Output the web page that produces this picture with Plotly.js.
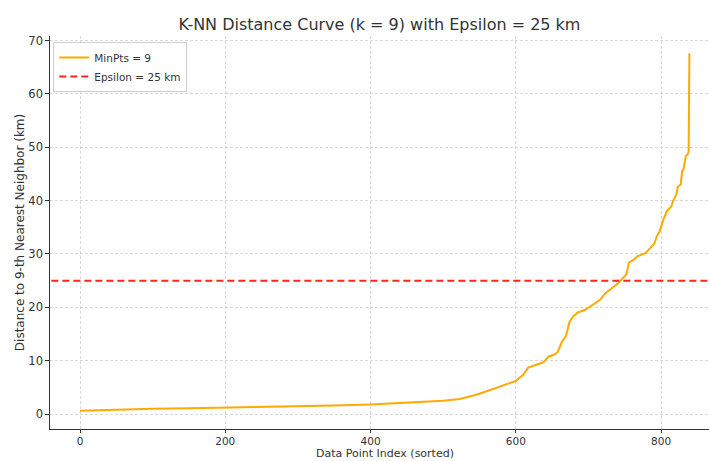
<!DOCTYPE html>
<html>
<head>
<meta charset="utf-8">
<script src="https://cdn.plot.ly/plotly-3.0.1.min.js"></script>
<style>html,body{margin:0;padding:0;background:#fff;}#chart{width:709px;height:461px;}</style>
</head>
<body>
<div id="chart"></div>
<script>
// Sorted k-NN distances (k = 9)
const pointIndex = [0, 20, 50, 100, 150, 200, 250, 300, 350, 400, 450, 500, 523, 535, 544, 554, 564, 574, 583, 592, 600, 605, 610, 617, 625, 632, 638, 645, 654, 658, 663, 669, 674, 679, 685, 695, 704, 716, 723, 732, 741, 746, 752, 756, 762, 768, 778, 785, 791, 794, 798, 803, 808, 814, 817, 821, 823, 827, 829, 831, 834, 837, 838, 839];
const knnDistance = [0.62, 0.72, 0.85, 1.0, 1.08, 1.19, 1.3, 1.43, 1.6, 1.81, 2.1, 2.5, 2.81, 3.2, 3.56, 4.0, 4.5, 5.0, 5.44, 5.8, 6.19, 6.8, 7.3, 8.7, 9.1, 9.5, 9.7, 10.75, 11.2, 11.7, 13.4, 14.6, 17.3, 18.3, 19.0, 19.5, 20.3, 21.4, 22.6, 23.6, 24.5, 25.3, 26.1, 28.4, 28.9, 29.6, 30.1, 31.1, 32.0, 33.3, 34.2, 36.4, 38.0, 38.9, 40.1, 41.1, 42.6, 43.0, 45.5, 45.9, 48.3, 48.8, 49.2, 67.6];
const epsilonKm = 25;
const xTicks = [0, 200, 400, 600, 800];
const yTicks = [0, 10, 20, 30, 40, 50, 60, 70];
const xTitle = 'Data Point Index (sorted)';

const font = "DejaVu Sans, sans-serif";
const traces = [
  {x: pointIndex, y: knnDistance, type: 'scatter', mode: 'lines', name: 'MinPts = 9',
   line: {color: '#FFAA00', width: 2}},
  {x: [-100, 1000], y: [epsilonKm, epsilonKm], type: 'scatter', mode: 'lines', name: 'Epsilon = 25 km',
   line: {color: '#FF2222', width: 2, dash: '7px,4px'}}
];
const layout = {
  width: 709, height: 461,
  margin: {l: 50, r: 0, t: 36, b: 32},
  paper_bgcolor: '#fff', plot_bgcolor: '#fff',
  font: {family: font, color: '#333', size: 12},
  title: {text: 'K-NN Distance Curve (k = 9) with Epsilon = 25 km', font: {family: font, size: 16, color: '#333'},
          x: 0.5, xanchor: 'center', y: 0.948, yanchor: 'middle', xref: 'paper'},
  showlegend: true,
  legend: {x: 0.005, y: 0.985, xanchor: 'left', yanchor: 'top', bgcolor: 'rgba(255,255,255,0.9)',
           bordercolor: '#d0d0d0', borderwidth: 1, font: {family: font, size: 10.5, color: '#333'},
           itemwidth: 30},
  annotations: [
    {text: xTitle, xref: 'paper', yref: 'paper', x: 0.509, y: -0.0805, xanchor: 'center', yanchor: 'bottom',
     borderpad: 0, showarrow: false, font: {family: font, size: 11, color: '#333'}}
  ],
  xaxis: {range: [-41.3, 866], tickvals: xTicks, ticktext: xTicks.map(String), automargin: false,
          showgrid: true, gridcolor: '#cfcfcf', griddash: '3px,2px', gridwidth: 0.8,
          zeroline: false, showline: true, linecolor: '#333', linewidth: 1.2,
          ticks: 'outside', ticklen: 2.5, tickcolor: '#333', tickfont: {size: 10.5, color: '#333'}},
  yaxis: {range: [-2.8, 70.85], tickvals: yTicks, ticktext: yTicks.map(String), automargin: false,
          showgrid: true, gridcolor: '#cfcfcf', griddash: '3px,2px', gridwidth: 0.8,
          zeroline: false, showline: true, linecolor: '#333', linewidth: 1.2,
          ticks: 'outside', ticklen: 3.5, tickcolor: '#333', tickfont: {size: 11.5, color: '#333'},
          title: {text: 'Distance to 9-th Nearest Neighbor (km)', font: {size: 12, color: '#333'}, standoff: 1}}
};
Plotly.newPlot('chart', traces, layout, {displayModeBar: false, staticPlot: true});
</script>
</body>
</html>
